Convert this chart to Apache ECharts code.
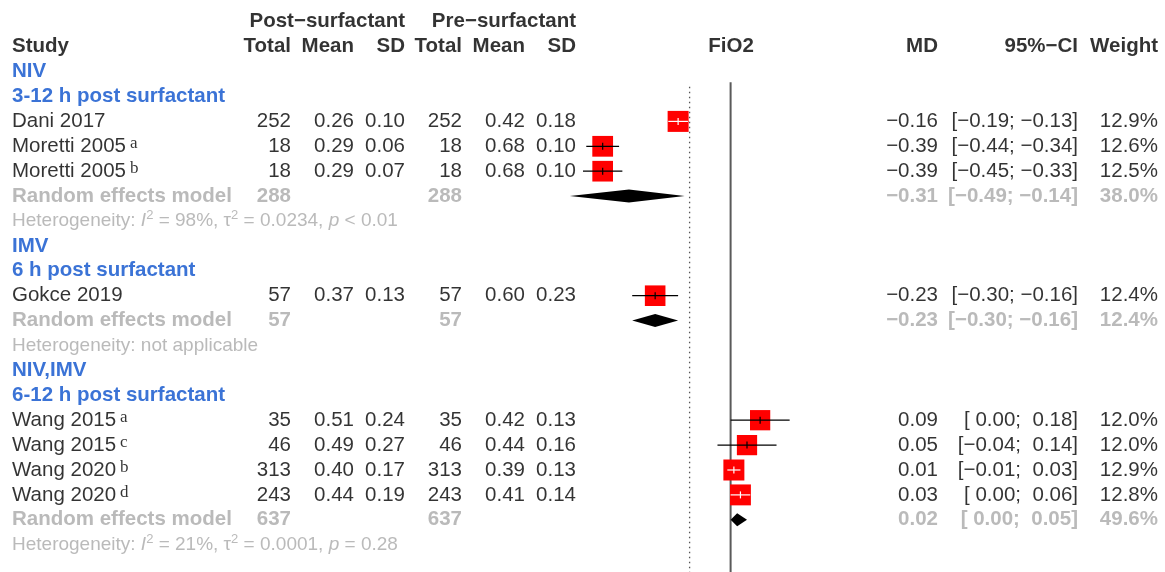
<!DOCTYPE html>
<html>
<head>
<meta charset="utf-8">
<script src="https://cdn.jsdelivr.net/npm/echarts@6/dist/echarts.min.js"></script>
<style>html,body{margin:0;padding:0;background:#fff}#c{width:1165px;height:572px}</style>
</head>
<body>
<div id="c"></div>
<script>
// ---------------- DATA ----------------
const studies   = ['Dani 2017','Moretti 2005','Moretti 2005','Gokce 2019','Wang 2015','Wang 2015','Wang 2020','Wang 2020'];
const studySup  = ['', 'a', 'b', '', 'a', 'c', 'b', 'd'];
const studyGroup = [0,0,0,1,2,2,2,2];
const postTotal = [252, 18, 18, 57, 35, 46, 313, 243];
const postMean  = [0.26, 0.29, 0.29, 0.37, 0.51, 0.49, 0.40, 0.44];
const postSD    = [0.10, 0.06, 0.07, 0.13, 0.24, 0.27, 0.17, 0.19];
const preTotal  = [252, 18, 18, 57, 35, 46, 313, 243];
const preMean   = [0.42, 0.68, 0.68, 0.60, 0.42, 0.44, 0.39, 0.41];
const preSD     = [0.18, 0.10, 0.10, 0.23, 0.13, 0.16, 0.13, 0.14];
const md        = [-0.16, -0.39, -0.39, -0.23, 0.09, 0.05, 0.01, 0.03];
const ciLow     = [-0.19, -0.44, -0.45, -0.30, 0.00, -0.04, -0.01, 0.00];
const ciHigh    = [-0.13, -0.34, -0.33, -0.16, 0.18, 0.14, 0.03, 0.06];
const weight    = [12.9, 12.6, 12.5, 12.4, 12.0, 12.0, 12.9, 12.8];

const groupNames    = ['NIV', 'IMV', 'NIV,IMV'];
const groupTimes    = ['3-12 h post surfactant', '6 h post surfactant', '6-12 h post surfactant'];
const groupPostTot  = [288, 57, 637];
const groupPreTot   = [288, 57, 637];
const groupMD       = [-0.31, -0.23, 0.02];
const groupLow      = [-0.49, -0.30, 0.00];
const groupHigh     = [-0.14, -0.16, 0.05];
const groupWeight   = [38.0, 12.4, 49.6];
const groupHetI2    = ['98%', null, '21%'];
const groupHetTau2  = ['0.0234', null, '0.0001'];
const groupHetP     = ['< 0.01', null, '= 0.28'];

const overallMD = -0.125;   // dotted reference line
const nullMD = 0;           // solid no-effect line

const headerTop  = ['Post\u2212surfactant', 'Pre\u2212surfactant'];
const headerCols = ['Study','Total','Mean','SD','Total','Mean','SD','FiO2','MD','95%\u2212CI','Weight'];

// ---------------- LAYOUT / STYLE ----------------
const FONT = '"Liberation Sans", Arial, Helvetica, sans-serif';
const SERIF = '"Liberation Serif", "DejaVu Serif", serif';
const FS = 20.5, FS_HET = 19;
const BLUE = '#0a50cc', GRAY = '#a9a9a9';
const colX = {study:12, postTotal:291, postMean:354, postSD:405, preTotal:462, preMean:525, preSD:576,
              fio2:731, md:938, ci:1078, weight:1158};
const headerColX = [colX.study, colX.postTotal, colX.postMean, colX.postSD, colX.preTotal, colX.preMean, colX.preSD,
                    colX.fio2, colX.md, colX.ci, colX.weight];
const headerColAlign = ['left','right','right','right','right','right','right','center','right','right','right'];
const ROW_MIN = -1.8755, ROW_MAX = 21.0964;   // row units mapped to 0..572 px
const X_MIN = -0.6, X_MAX = 0.6;
const FOREST_LEFT = 533.8, FOREST_WIDTH = 393.6;
const BOX_SIDE = 21, DIAMOND_HALF_H = 6.5;

// ---------------- HELPERS ----------------
const minus = '\u2212';
function f2(v){ return (v < 0 ? minus : '') + Math.abs(v).toFixed(2); }
function fci(v){ return (v < 0 ? minus : ' ') + Math.abs(v).toFixed(2); }
function ciStr(lo, hi){ return '[' + fci(lo) + '; ' + fci(hi) + ']'; }

const textItems = [];
function T(x, row, text, o){
  o = o || {};
  const align = o.align || 'left';
  const label = {
    show: true,
    position: align === 'right' ? 'left' : (align === 'center' ? 'inside' : 'right'),
    distance: 0,
    formatter: text,
    color: o.color || '#000',
    fontSize: o.size || FS,
    fontWeight: o.bold ? 'bold' : 'normal',
    fontFamily: FONT
  };
  if (align === 'center') label.align = 'center';
  if (o.rich) label.rich = o.rich;
  textItems.push({ value: [x, row], label: label });
}

// ---------------- BUILD ROWS ----------------
headerTop.forEach((h, i) => T(i === 0 ? colX.postSD : colX.preSD, -1, h, {align:'right', bold:true}));
headerCols.forEach((h, i) => T(headerColX[i], 0, h, {align: headerColAlign[i], bold:true}));

const studyRows = [], diamondRows = [];
let row = 1;
groupNames.forEach((g, gi) => {
  T(colX.study, row++, g, {bold:true, color:BLUE});
  T(colX.study, row++, groupTimes[gi], {bold:true, color:BLUE});
  studies.forEach((s, i) => {
    if (studyGroup[i] !== gi) return;
    const name = studySup[i]
      ? '{n|' + s + '}{s|' + studySup[i] + '}'
      : s;
    T(colX.study, row, name, studySup[i] ? {rich:{
        n:{fontSize:FS, fontFamily:FONT, color:'#000'},
        s:{fontSize:17, fontFamily:SERIF, color:'#000', padding:[0,0,5,4]}}} : {});
    T(colX.postTotal, row, String(postTotal[i]), {align:'right'});
    T(colX.postMean, row, postMean[i].toFixed(2), {align:'right'});
    T(colX.postSD, row, postSD[i].toFixed(2), {align:'right'});
    T(colX.preTotal, row, String(preTotal[i]), {align:'right'});
    T(colX.preMean, row, preMean[i].toFixed(2), {align:'right'});
    T(colX.preSD, row, preSD[i].toFixed(2), {align:'right'});
    T(colX.md, row, f2(md[i]), {align:'right'});
    T(colX.ci, row, ciStr(ciLow[i], ciHigh[i]), {align:'right'});
    T(colX.weight, row, weight[i].toFixed(1) + '%', {align:'right'});
    studyRows.push([md[i], ciLow[i], ciHigh[i], row, weight[i]]);
    row++;
  });
  const go = {bold:true, color:GRAY};
  T(colX.study, row, 'Random effects model', go);
  T(colX.postTotal, row, String(groupPostTot[gi]), Object.assign({align:'right'}, go));
  T(colX.preTotal, row, String(groupPreTot[gi]), Object.assign({align:'right'}, go));
  T(colX.md, row, f2(groupMD[gi]), Object.assign({align:'right'}, go));
  T(colX.ci, row, ciStr(groupLow[gi], groupHigh[gi]), Object.assign({align:'right'}, go));
  T(colX.weight, row, groupWeight[gi].toFixed(1) + '%', Object.assign({align:'right'}, go));
  diamondRows.push([groupMD[gi], groupLow[gi], groupHigh[gi], row]);
  row++;
  const hs = {fontSize:FS_HET, fontFamily:FONT, color:GRAY};
  const rich = {
    h: hs,
    i: Object.assign({}, hs, {fontStyle:'italic'}),
    s: {fontSize:13, fontFamily:FONT, color:GRAY, padding:[0,0,11,0]}
  };
  if (groupHetI2[gi]) {
    T(colX.study, row, '{h|Heterogeneity: }{i|I}{s|2}{h| = ' + groupHetI2[gi] + ', \u03c4}{s|2}{h| = ' +
      groupHetTau2[gi] + ', }{i|p}{h| ' + groupHetP[gi] + '}', {rich: rich, size:FS_HET, color:GRAY});
  } else {
    T(colX.study, row, 'Heterogeneity: not applicable', {size:FS_HET, color:GRAY});
  }
  row++;
});

// reference lines: [x, rowTop, rowBottom, type]
const refLines = [[nullMD, 1.43, ROW_MAX, 0], [overallMD, 1.61, ROW_MAX, 1]];

// ---------------- CHART ----------------
const chart = echarts.init(document.getElementById('c'), null, {renderer:'canvas'});
chart.setOption({
  animation: false,
  backgroundColor: '#fff',
  grid: [
    {left:0, top:0, width:1165, height:572},
    {left:FOREST_LEFT, top:0, width:FOREST_WIDTH, height:572}
  ],
  xAxis: [
    {type:'value', gridIndex:0, min:0, max:1165, show:false},
    {type:'value', gridIndex:1, min:X_MIN, max:X_MAX, show:false}
  ],
  yAxis: [
    {type:'value', gridIndex:0, min:ROW_MIN, max:ROW_MAX, inverse:true, show:false},
    {type:'value', gridIndex:1, min:ROW_MIN, max:ROW_MAX, inverse:true, show:false}
  ],
  series: [
    {
      type:'custom', xAxisIndex:1, yAxisIndex:1, silent:true, z:1,
      data: refLines,
      renderItem: function(params, api){
        const x = api.value(0);
        const p1 = api.coord([x, api.value(1)]), p2 = api.coord([x, api.value(2)]);
        const dotted = api.value(3) === 1;
        return {type:'line', shape:{x1:p1[0], y1:p1[1], x2:p2[0], y2:p2[1]},
          style:{stroke: dotted ? '#555' : '#5a5a5a', lineWidth: dotted ? 1.3 : 2,
                 lineDash: dotted ? [1.4, 3.6] : null}};
      }
    },
    {
      type:'custom', xAxisIndex:1, yAxisIndex:1, silent:true, z:2,
      data: studyRows,
      renderItem: function(params, api){
        const c = api.coord([api.value(0), api.value(3)]);
        const pl = api.coord([api.value(1), api.value(3)])[0];
        const ph = api.coord([api.value(2), api.value(3)])[0];
        const side = BOX_SIDE * Math.sqrt(api.value(4) / 12.9);
        const inside = pl >= c[0] - side/2 && ph <= c[0] + side/2;
        const lc = inside ? '#ffffff' : '#000000';
        return {type:'group', children:[
          {type:'rect', shape:{x:c[0]-side/2, y:c[1]-side/2, width:side, height:side}, style:{fill:'#ff0000'}},
          {type:'line', shape:{x1:pl, y1:c[1], x2:ph, y2:c[1]}, style:{stroke:lc, lineWidth:1.2}},
          {type:'line', shape:{x1:c[0], y1:c[1]-3.5, x2:c[0], y2:c[1]+3.5}, style:{stroke:lc, lineWidth:1.2}}
        ]};
      }
    },
    {
      type:'custom', xAxisIndex:1, yAxisIndex:1, silent:true, z:2,
      data: diamondRows,
      renderItem: function(params, api){
        const c = api.coord([api.value(0), api.value(3)]);
        const pl = api.coord([api.value(1), api.value(3)])[0];
        const ph = api.coord([api.value(2), api.value(3)])[0];
        return {type:'polygon', shape:{points:[[pl,c[1]],[c[0],c[1]-DIAMOND_HALF_H],[ph,c[1]],[c[0],c[1]+DIAMOND_HALF_H]]},
          style:{fill:'#000'}};
      }
    },
    {
      type:'scatter', xAxisIndex:0, yAxisIndex:0, silent:true, z:3,
      symbolSize:0, itemStyle:{color:'rgba(0,0,0,0)'},
      data: textItems
    }
  ]
});
</script>
</body>
</html>
